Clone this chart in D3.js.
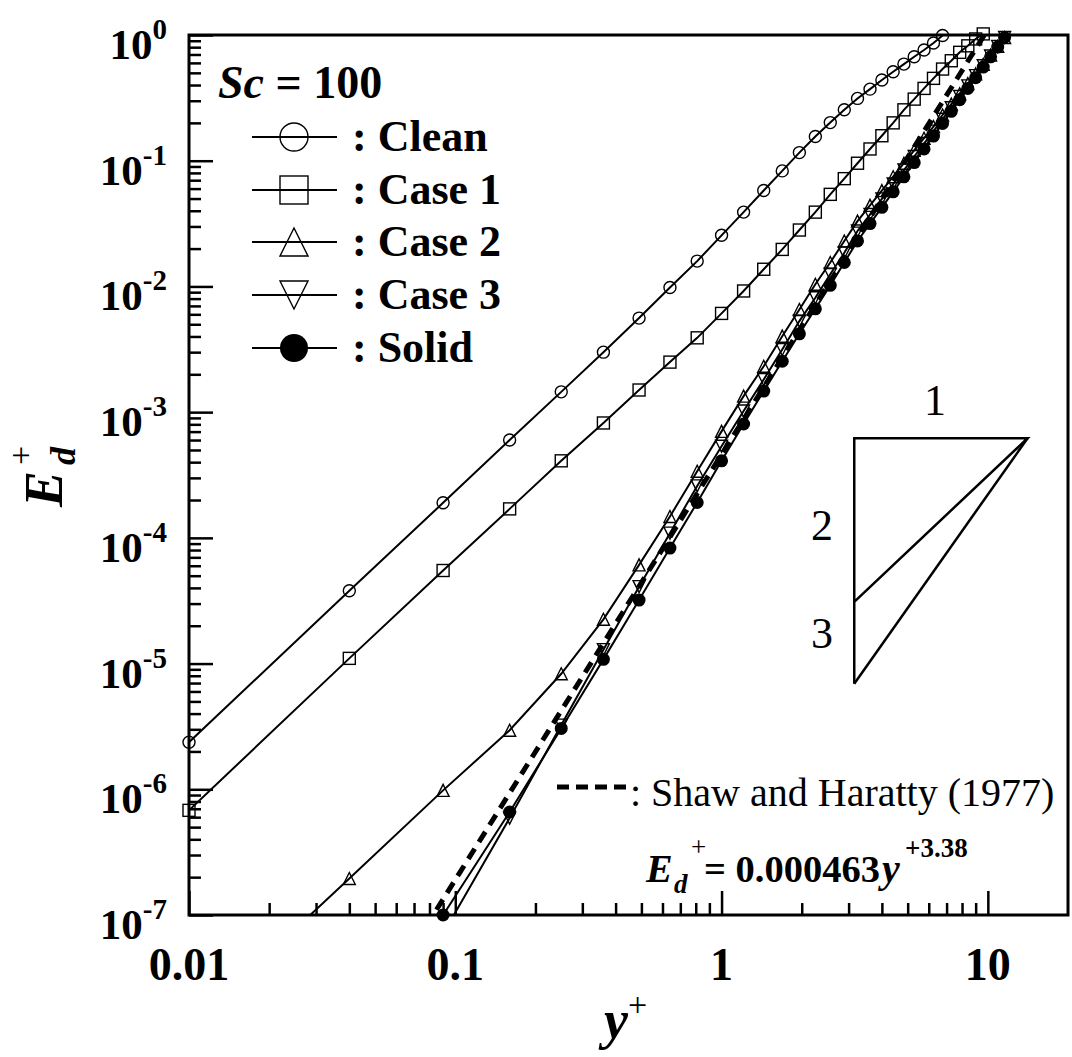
<!DOCTYPE html>
<html>
<head>
<meta charset="utf-8">
<script src="https://cdn.jsdelivr.net/npm/d3@7"></script>
<style>
  body { margin: 0; background: #fff; }
  svg { display: block; }
  text { font-family: "Liberation Serif", "Times New Roman", serif; fill: #000; }
</style>
</head>
<body>
<div id="chart"></div>
<script>
// y+ grid shared by all series
var yPlus = [0.01, 0.04, 0.09, 0.16, 0.25, 0.36, 0.49, 0.64, 0.81, 1.0, 1.21, 1.44, 1.69, 1.96, 2.25, 2.56, 2.89,
  3.24, 3.61, 4.0, 4.41, 4.84, 5.29, 5.76, 6.25, 6.76, 7.29, 7.84, 8.41, 9.0, 9.61, 10.24, 10.89, 11.56];

// E_d+ values (first value sits at yPlus[start])
var clean = [2.37e-6, 3.8e-5, 1.9e-4, 6.0e-4, 1.45e-3, 3.0e-3, 5.6e-3, 9.8e-3, 0.0159, 0.0255, 0.039, 0.058, 0.083,
  0.116, 0.156, 0.201, 0.254, 0.313, 0.371, 0.438, 0.51, 0.587, 0.672, 0.759, 0.863, 0.99];
var case1 = [6.8e-7, 1.1e-5, 5.5e-5, 1.7e-4, 4.1e-4, 8.2e-4, 1.5e-3, 2.5e-3, 3.9e-3, 6.1e-3, 9.2e-3, 0.0137, 0.0197,
  0.0281, 0.039, 0.054, 0.072, 0.0955, 0.124, 0.158, 0.20, 0.254, 0.309, 0.376, 0.452, 0.536, 0.624, 0.728, 0.82, 0.93, 1.02];
var case2 = [1.26e-8, 1.95e-7, 9.8e-7, 2.95e-6, 8.3e-6, 2.25e-5, 6.1e-5, 1.48e-4, 3.39e-4, 7.03e-4, 1.34e-3, 2.32e-3,
  4.02e-3, 6.56e-3, 0.0104, 0.0155, 0.023, 0.0331, 0.0441, 0.0578, 0.0746, 0.0955, 0.121, 0.151, 0.187, 0.231, 0.282,
  0.341, 0.411, 0.491, 0.585, 0.692, 0.813, 0.953];
var case3 = [7.1e-8, 5.9e-7, 3.24e-6, 1.29e-5, 4.09e-5, 1.09e-4, 2.59e-4, 5.35e-4, 1.02e-3, 1.82e-3, 3.15e-3, 5.30e-3,
  8.13e-3, 0.0125, 0.0185, 0.0276, 0.0373, 0.0497, 0.0652, 0.0843, 0.108, 0.137, 0.172, 0.214, 0.264, 0.324, 0.394,
  0.475, 0.570, 0.681, 0.809, 0.955];
var solid = [1.0e-7, 6.6e-7, 3.05e-6, 1.08e-5, 3.2e-5, 8.3e-5, 1.91e-4, 4.1e-4, 8.05e-4, 1.47e-3, 2.54e-3, 4.2e-3,
  6.64e-3, 0.0102, 0.0155, 0.023, 0.0316, 0.0426, 0.0566, 0.0745, 0.0966, 0.124, 0.157, 0.198, 0.247, 0.306, 0.376,
  0.458, 0.556, 0.670, 0.802, 0.955];

// Shaw and Haratty line end points, and the slope triangle
var shawX = [0.085, 9.7];
var shawY = [1.1e-7, 1.0];
var slopeX = [3.15, 14.1];
var slopeY = [6.2e-4, 3.1e-5, 6.9e-6];

var xTicks = [0.01, 0.1, 1, 10];
var xTickLabels = ["0.01", "0.1", "1", "10"];
var yTicks = [1, 1e-1, 1e-2, 1e-3, 1e-4, 1e-5, 1e-6, 1e-7];
var yTickExp = ["0", "-1", "-2", "-3", "-4", "-5", "-6", "-7"];

var series = [
  { name: ": Clean", values: clean, start: 0, marker: "circle" },
  { name: ": Case 1", values: case1, start: 0, marker: "square" },
  { name: ": Case 2", values: case2, start: 0, marker: "up" },
  { name: ": Case 3", values: case3, start: 2, marker: "down" },
  { name: ": Solid", values: solid, start: 2, marker: "dot" }
];

var width = 1072, height = 1057;
var plotL = 189, plotR = 1068, plotT = 35, plotB = 915;

var svg = d3.select("#chart").append("svg")
  .attr("width", width)
  .attr("height", height);

var x = d3.scaleLog().domain([0.01, 20]).range([plotL, plotR]);
var y = d3.scaleLog().domain([1e-7, 1]).range([plotB, plotT]);

svg.append("clipPath").attr("id", "plotClip")
  .append("rect")
  .attr("x", plotL).attr("y", plotT)
  .attr("width", plotR - plotL).attr("height", plotB - plotT);

// minor ticks
var xMinor = [];
var yMinor = [];
[0.01, 0.1, 1, 10].forEach(function(d) {
  for (var k = 2; k <= 9; k++) xMinor.push(d * k);
});
yTicks.slice(1).forEach(function(d) {
  for (var k = 2; k <= 9; k++) yMinor.push(d * k);
});
xMinor = xMinor.filter(function(v) { return v < 20; });

function styleAxis(g) {
  g.select(".domain").remove();
  g.selectAll("line").attr("stroke", "#000").attr("stroke-width", 2.5);
}

svg.append("g").attr("transform", "translate(0," + plotB + ")")
  .call(d3.axisBottom(x).tickValues(xMinor).tickSize(-12).tickFormat(""))
  .call(styleAxis);
svg.append("g").attr("transform", "translate(0," + plotB + ")")
  .call(d3.axisBottom(x).tickValues(xTicks).tickSize(-24).tickFormat(""))
  .call(styleAxis);
svg.append("g").attr("transform", "translate(" + plotL + ",0)")
  .call(d3.axisLeft(y).tickValues(yMinor).tickSize(-12).tickFormat(""))
  .call(styleAxis);
svg.append("g").attr("transform", "translate(" + plotL + ",0)")
  .call(d3.axisLeft(y).tickValues(yTicks).tickSize(-24).tickFormat(""))
  .call(styleAxis);

// frame
svg.append("rect")
  .attr("x", plotL).attr("y", plotT)
  .attr("width", plotR - plotL).attr("height", plotB - plotT)
  .attr("fill", "none").attr("stroke", "#000").attr("stroke-width", 3);

// tick labels
svg.selectAll(".xlab").data(xTicks).enter().append("text")
  .attr("class", "xlab")
  .attr("x", function(d) { return x(d); })
  .attr("y", plotB + 65)
  .attr("text-anchor", "middle")
  .attr("font-size", 46).attr("font-weight", "bold")
  .text(function(d, i) { return xTickLabels[i]; });

var ylab = svg.selectAll(".ylab").data(yTicks).enter().append("text")
  .attr("class", "ylab")
  .attr("x", 167)
  .attr("y", function(d) { return y(d) + 24; })
  .attr("text-anchor", "end")
  .attr("font-weight", "bold");
ylab.append("tspan").attr("font-size", 43).text("10");
ylab.append("tspan").attr("font-size", 29).attr("dy", -20)
  .text(function(d, i) { return yTickExp[i]; });

// marker drawing
function drawMarker(g, type, cx, cy, s) {
  if (type === "circle") {
    g.append("circle").attr("cx", cx).attr("cy", cy).attr("r", s / 2)
      .attr("fill", "none").attr("stroke", "#000").attr("stroke-width", 1.4);
  } else if (type === "dot") {
    g.append("circle").attr("cx", cx).attr("cy", cy).attr("r", s / 2)
      .attr("fill", "#000");
  } else if (type === "square") {
    g.append("rect").attr("x", cx - s / 2).attr("y", cy - s / 2)
      .attr("width", s).attr("height", s)
      .attr("fill", "none").attr("stroke", "#000").attr("stroke-width", 1.4);
  } else {
    var h = s * 1.0;
    var dir = type === "up" ? 1 : -1;
    var pts = [[cx, cy - dir * h / 2], [cx - s / 2, cy + dir * h / 2], [cx + s / 2, cy + dir * h / 2]];
    g.append("path").attr("d", "M" + pts.join("L") + "Z")
      .attr("fill", "none").attr("stroke", "#000").attr("stroke-width", 1.4);
  }
}

var line = d3.line()
  .x(function(d) { return x(d[0]); })
  .y(function(d) { return y(d[1]); });

var plot = svg.append("g");
var lines = plot.append("g").attr("clip-path", "url(#plotClip)");

series.forEach(function(s) {
  var pts = s.values.map(function(v, i) { return [yPlus[s.start + i], v]; });
  s.pts = pts;
  lines.append("path").datum(pts)
    .attr("d", line)
    .attr("fill", "none").attr("stroke", "#000").attr("stroke-width", 2);
});

// Shaw and Haratty dashed line
lines.append("path")
  .datum(shawX.map(function(v, i) { return [v, shawY[i]]; }))
  .attr("d", line)
  .attr("fill", "none").attr("stroke", "#000")
  .attr("stroke-width", 5).attr("stroke-dasharray", "12,8");

series.forEach(function(s) {
  var g = plot.append("g");
  s.pts.forEach(function(p) {
    if (p[1] < 0.97e-7 || p[1] > 1.05) return;
    drawMarker(g, s.marker, x(p[0]), y(p[1]), s.marker === "dot" ? 13 : 12);
  });
});

// slope triangle
var tri = svg.append("g").attr("fill", "none").attr("stroke", "#000").attr("stroke-width", 2.5);
tri.append("path").datum([[slopeX[0], slopeY[2]], [slopeX[0], slopeY[0]], [slopeX[1], slopeY[0]], [slopeX[0], slopeY[1]]])
  .attr("d", line);
tri.append("path").datum([[slopeX[1], slopeY[0]], [slopeX[0], slopeY[2]]])
  .attr("d", line);
svg.append("text").attr("x", 935).attr("y", 415).attr("text-anchor", "middle")
  .attr("font-size", 44).text("1");
svg.append("text").attr("x", 822).attr("y", 540).attr("text-anchor", "middle")
  .attr("font-size", 44).text("2");
svg.append("text").attr("x", 822).attr("y", 648).attr("text-anchor", "middle")
  .attr("font-size", 44).text("3");

// legend
var sc = svg.append("text").attr("x", 218).attr("y", 98)
  .attr("font-size", 46).attr("font-weight", "bold");
sc.append("tspan").attr("font-style", "italic").text("Sc");
sc.append("tspan").text(" = 100");

var legendRows = [137, 190, 242, 295, 348];
series.forEach(function(s, i) {
  var ly = legendRows[i];
  var g = svg.append("g");
  g.append("line").attr("x1", 252).attr("x2", 337).attr("y1", ly).attr("y2", ly)
    .attr("stroke", "#000").attr("stroke-width", 2);
  drawMarker(g, s.marker, 294, ly, 28);
  g.append("text").attr("x", 352).attr("y", ly + 14)
    .attr("font-size", 44).attr("font-weight", "bold").text(s.name);
});

// Shaw and Haratty legend
svg.append("line").attr("x1", 557).attr("x2", 628).attr("y1", 787).attr("y2", 787)
  .attr("stroke", "#000").attr("stroke-width", 5).attr("stroke-dasharray", "12,7");
svg.append("text").attr("x", 630).attr("y", 806)
  .attr("font-size", 40).text(": Shaw and Haratty (1977)");

// correlation formula
var f = svg.append("g").attr("font-weight", "bold");
f.append("text").attr("x", 646).attr("y", 882).attr("font-size", 40).attr("font-style", "italic").text("E");
f.append("text").attr("x", 674).attr("y", 893).attr("font-size", 27).attr("font-style", "italic").text("d");
f.append("text").attr("x", 691).attr("y", 856).attr("font-size", 27).attr("font-weight", "normal").text("+");
f.append("text").attr("x", 704).attr("y", 882).attr("font-size", 38.5).text("= 0.000463");
f.append("text").attr("x", 882).attr("y", 882).attr("font-size", 40).attr("font-style", "italic").text("y");
f.append("text").attr("x", 905).attr("y", 857).attr("font-size", 27).text("+3.38");

// axis titles
svg.append("text").attr("x", 604).attr("y", 1038)
  .attr("font-size", 54).attr("font-weight", "bold").attr("font-style", "italic").text("y");
svg.append("text").attr("x", 628).attr("y", 1016)
  .attr("font-size", 34).text("+");

var yt = svg.append("g").attr("transform", "translate(62,507) rotate(-90)");
yt.append("text").attr("x", 0).attr("y", 0)
  .attr("font-size", 54).attr("font-weight", "bold").attr("font-style", "italic").text("E");
yt.append("text").attr("x", 42).attr("y", 13)
  .attr("font-size", 36).attr("font-weight", "bold").attr("font-style", "italic").text("d");
yt.append("text").attr("x", 42).attr("y", -30)
  .attr("font-size", 34).text("+");
</script>
</body>
</html>
